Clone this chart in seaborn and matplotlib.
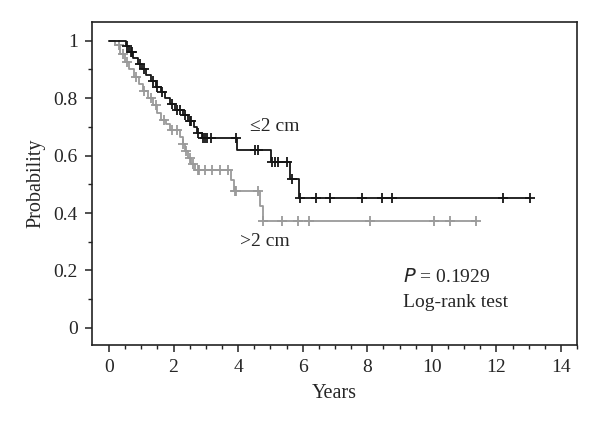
import numpy as np
import pandas as pd
import matplotlib
matplotlib.use("Agg")
import matplotlib.pyplot as plt
import seaborn as sns

# <=2 cm group: event times (years) and survival after each drop
small_times = [0.53, 0.62, 0.75, 0.90, 1.02, 1.15, 1.30, 1.45, 1.62, 1.75, 1.88, 2.05,
               2.30, 2.45, 2.62, 2.72, 2.88, 3.96, 5.03, 5.60, 5.90]
small_surv = [0.98, 0.96, 0.94, 0.92, 0.90, 0.88, 0.86, 0.84, 0.82, 0.80, 0.78, 0.76,
              0.74, 0.72, 0.70, 0.68, 0.66, 0.62, 0.577, 0.517, 0.452]
small_censor = [0.57, 0.68, 0.72, 0.95, 1.08, 1.35, 1.50, 1.65, 1.95, 2.10, 2.20, 2.35,
                2.50, 2.55, 2.75, 2.92, 2.97, 3.05, 3.15, 3.95, 4.53, 4.63, 5.05, 5.15,
                5.25, 5.52, 5.68, 5.92, 6.40, 6.86, 7.83, 8.45, 8.76, 12.20, 13.04]
small_end = 13.05

# >2 cm group
large_times = [0.19, 0.35, 0.50, 0.62, 0.78, 0.92, 1.05, 1.20, 1.35, 1.50, 1.62, 1.78,
               1.88, 2.20, 2.28, 2.35, 2.45, 2.55, 2.68, 3.78, 3.86, 4.68, 4.76]
large_surv = [0.985, 0.955, 0.925, 0.90, 0.875, 0.85, 0.825, 0.80, 0.775, 0.75, 0.725,
              0.71, 0.69, 0.665, 0.64, 0.615, 0.59, 0.57, 0.551, 0.514, 0.475, 0.424, 0.372]
large_censor = [0.30, 0.45, 0.55, 0.85, 1.10, 1.30, 1.45, 1.70, 1.95, 2.10, 2.30, 2.40,
                2.50, 2.60, 2.75, 2.80, 2.98, 3.20, 3.45, 3.70, 3.90, 3.95, 4.62, 4.76,
                5.37, 5.87, 6.20, 8.07, 10.06, 10.56, 11.37]
large_end = 11.37

sns.set_style("ticks")
plt.rcParams['font.family'] = ['Liberation Serif', 'DejaVu Serif']

fig = plt.figure(figsize=(6, 4.24), dpi=100)
ax = fig.add_axes([0.153, 0.186, 0.809, 0.762])


def km_frame(times, surv, end):
    t = [0.0] + list(times) + [end]
    s = [1.0] + list(surv) + [surv[-1]]
    return pd.DataFrame({"t": t, "s": s})


def censor_frame(times, surv, censor):
    # survival level at each censoring time, looked up from the step curve
    idx = np.searchsorted(times, censor, side="right") - 1
    levels = [1.0 if i < 0 else surv[i] for i in idx]
    return pd.DataFrame({"t": censor, "s": levels})


groups = [
    (large_times, large_surv, large_censor, large_end, "#9a9a9a"),
    (small_times, small_surv, small_censor, small_end, "#151515"),
]
for times, surv, censor, end, col in groups:
    sns.lineplot(data=km_frame(times, surv, end), x="t", y="s", ax=ax, color=col,
                 drawstyle="steps-post", estimator=None, sort=False, linewidth=1.3)
    cdf = censor_frame(times, surv, censor)
    ax.plot(cdf["t"], cdf["s"], linestyle="none", marker="+", markersize=6.5,
            markeredgewidth=1.3, color=col)

ax.set_xlim(-0.53, 14.5)
ax.set_ylim(-0.06, 1.065)
ax.set_xticks(np.arange(0, 15, 2))
ax.set_xticks(np.arange(0, 14.6, 0.5), minor=True)
ax.set_yticks([0, 0.2, 0.4, 0.6, 0.8, 1])
ax.set_yticklabels(["0", "0.2", "0.4", "0.6", "0.8", "1"])
ax.set_yticks(np.arange(0, 1.01, 0.1), minor=True)
ax.tick_params(which="major", length=5, width=1.1, labelsize=14, color="#222222", pad=5)
ax.tick_params(which="minor", length=3, width=1.0, color="#222222")
for sp in ax.spines.values():
    sp.set_linewidth(1.2)
    sp.set_color("#222222")
ax.set_xlabel("Years", fontsize=14.5, labelpad=6)
ax.set_ylabel("Probability", fontsize=14.5, labelpad=6)

ax.text(4.38, 0.70, "\u22642 cm", fontsize=14, va="center", ha="left")
ax.text(4.07, 0.30, ">2 cm", fontsize=14, va="center", ha="left")
ax.text(9.1, 0.177, "$\\it{P}$ = 0.1929", fontsize=14, va="center", ha="left")
ax.text(9.1, 0.087, "Log-rank test", fontsize=14, va="center", ha="left")

fig.savefig("out.png", dpi=100)
